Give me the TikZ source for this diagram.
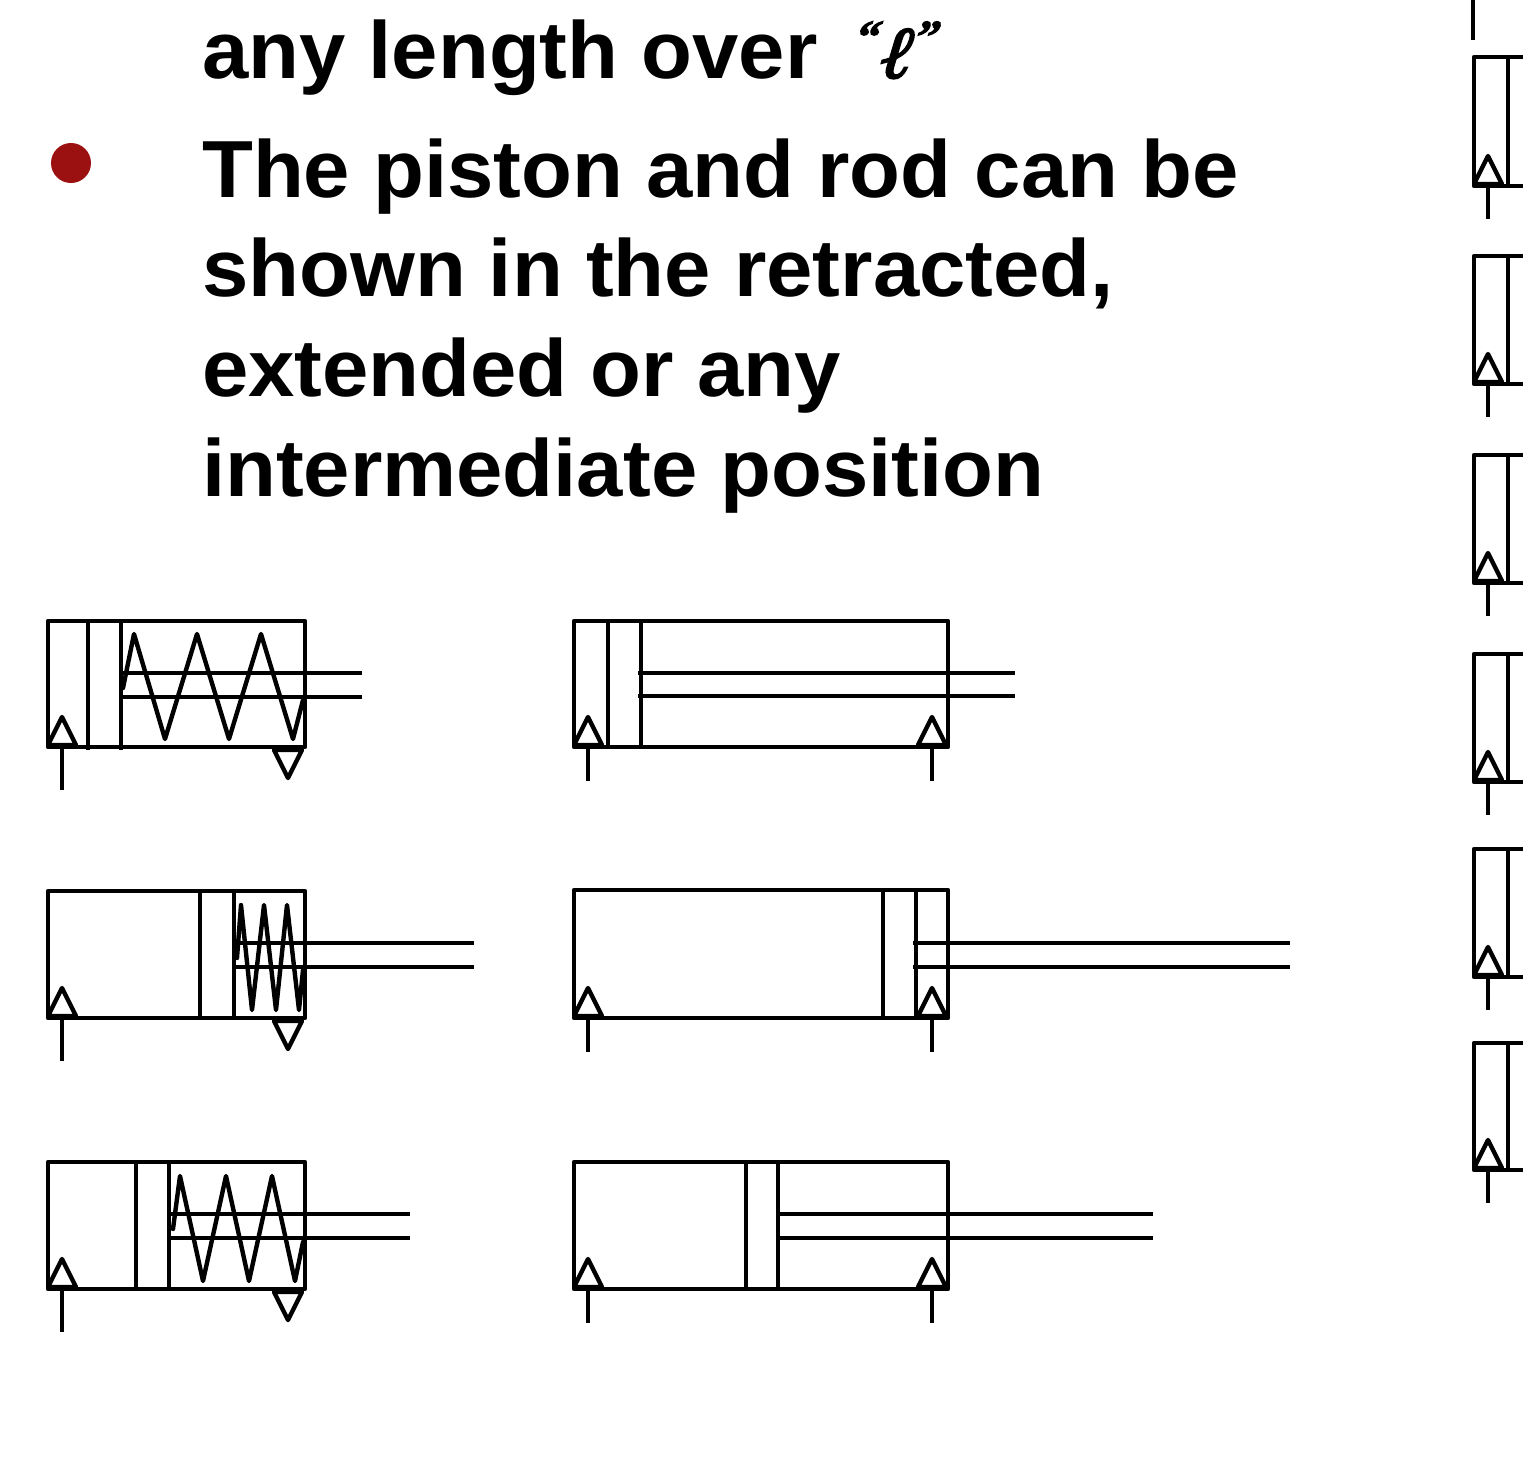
\documentclass[tikz,border=0pt]{standalone}
\usepackage{fontspec}
\setmainfont[FakeStretch=1.028]{Liberation Sans}
\newfontfamily\ellfont[FakeBold=2.5, FakeSlant=0.3]{Liberation Serif}
\usetikzlibrary{positioning}
\definecolor{bulletred}{HTML}{9B1010}
\tikzset{
  pipe/.style={line width=4.4pt, line join=round},
  spring/.style={line width=4.4pt, line join=round, line cap=round},
  slide/.style={anchor=base west, inner sep=0pt, font=\fontsize{81}{100}\selectfont\bfseries},
  port/.pic={
    \draw[pipe] (-14,0) -- (0,-28) -- (14,0) -- cycle;
  },
  vent/.pic={
    \draw[pipe] (-14,0) -- (0,28) -- (14,0) -- cycle;
  }
}

\begin{document}
\begin{tikzpicture}[x=1pt, y=-1pt]
\useasboundingbox (0,0) rectangle (1523,1473);

%% slide text

\node[slide] (line1) at (202,78) {any length over};
\node[slide] (ell) at (852,78) {\ellfont\fontsize{74}{74}\selectfont
  \raisebox{26pt}{\fontsize{46}{46}\selectfont “}\kern1.5pt ℓ\kern7pt\raisebox{26pt}{\fontsize{46}{46}\selectfont ”}};
\node[circle, fill=bulletred, inner sep=0pt, minimum size=40pt] (bullet) at (71,163) {};
\node[slide] (line2) at (202,197) {The piston and rod can be};
\node[slide] (line3) at (202,296) {shown in the retracted,};
\node[slide] (line4) at (202,396) {extended or any};
\node[slide] (line5) at (202,496) {intermediate position};

%% spring return cylinders

\foreach \top/\bot/\pa/\pb/\pend/\rodend in {621/747/88/121/750/362, 891/1018/200/234/1018/474, 1162/1289/136/169/1289/410} {
  \draw[pipe] (48,\top) rectangle (305,\bot);
  \draw[pipe] (\pa,\top) -- (\pa,\pend);
  \draw[pipe] (\pb,\top) -- (\pb,\pend);
  \draw[pipe] (\pb,\top+52) -- (\rodend,\top+52);
  \draw[pipe] (\pb,\top+76) -- (\rodend,\top+76);
  \pic at (62,\bot-2) {port};
  \draw[pipe] (62,\bot) -- (62,\bot+43);
  \pic at (288,\bot+3) {vent};
}

\draw[spring] (123,688) -- (134,634) -- (165,739) -- (197,634) -- (229,739)
  -- (261,634) -- (293,739) -- (303,700);
\draw[spring] (237,958) -- (241,905) -- (252,1010) -- (264,905) -- (276,1010)
  -- (287,905) -- (299,1010) -- (303,970);
\draw[spring] (173,1229) -- (180,1176) -- (203,1281) -- (226,1176) -- (249,1281)
  -- (272,1176) -- (295,1281) -- (303,1242);

%% double acting cylinders

\foreach \top/\bot/\pa/\pb/\rodstart/\rodend/\roda/\rodb in {621/747/608/641/638/1015/673/696, 890/1018/883/916/913/1290/943/967, 1162/1289/746/778/778/1153/1214/1238} {
  \draw[pipe] (574,\top) rectangle (948,\bot);
  \draw[pipe] (\pa,\top) -- (\pa,\bot);
  \draw[pipe] (\pb,\top) -- (\pb,\bot);
  \draw[pipe] (\rodstart,\roda) -- (\rodend,\roda);
  \draw[pipe] (\rodstart,\rodb) -- (\rodend,\rodb);
  \pic at (588,\bot-2) {port};
  \pic at (932,\bot-2) {port};
  \draw[pipe] (588,\bot) -- (588,\bot+34);
  \draw[pipe] (932,\bot) -- (932,\bot+34);
}

%% next slide column, cut off at the edge

\draw[pipe] (1473,0) -- (1473,40);
\foreach \top/\bot in {57/186, 256/384, 455/583, 654/782, 849/977, 1043/1170} {
  \draw[pipe] (1523,\top) -- (1474,\top) -- (1474,\bot) -- (1523,\bot);
  \draw[pipe] (1508,\top) -- (1508,\bot);
  \pic at (1488,\bot-2) {port};
  \draw[pipe] (1488,\bot) -- (1488,\bot+33);
}

\end{tikzpicture}
\end{document}
